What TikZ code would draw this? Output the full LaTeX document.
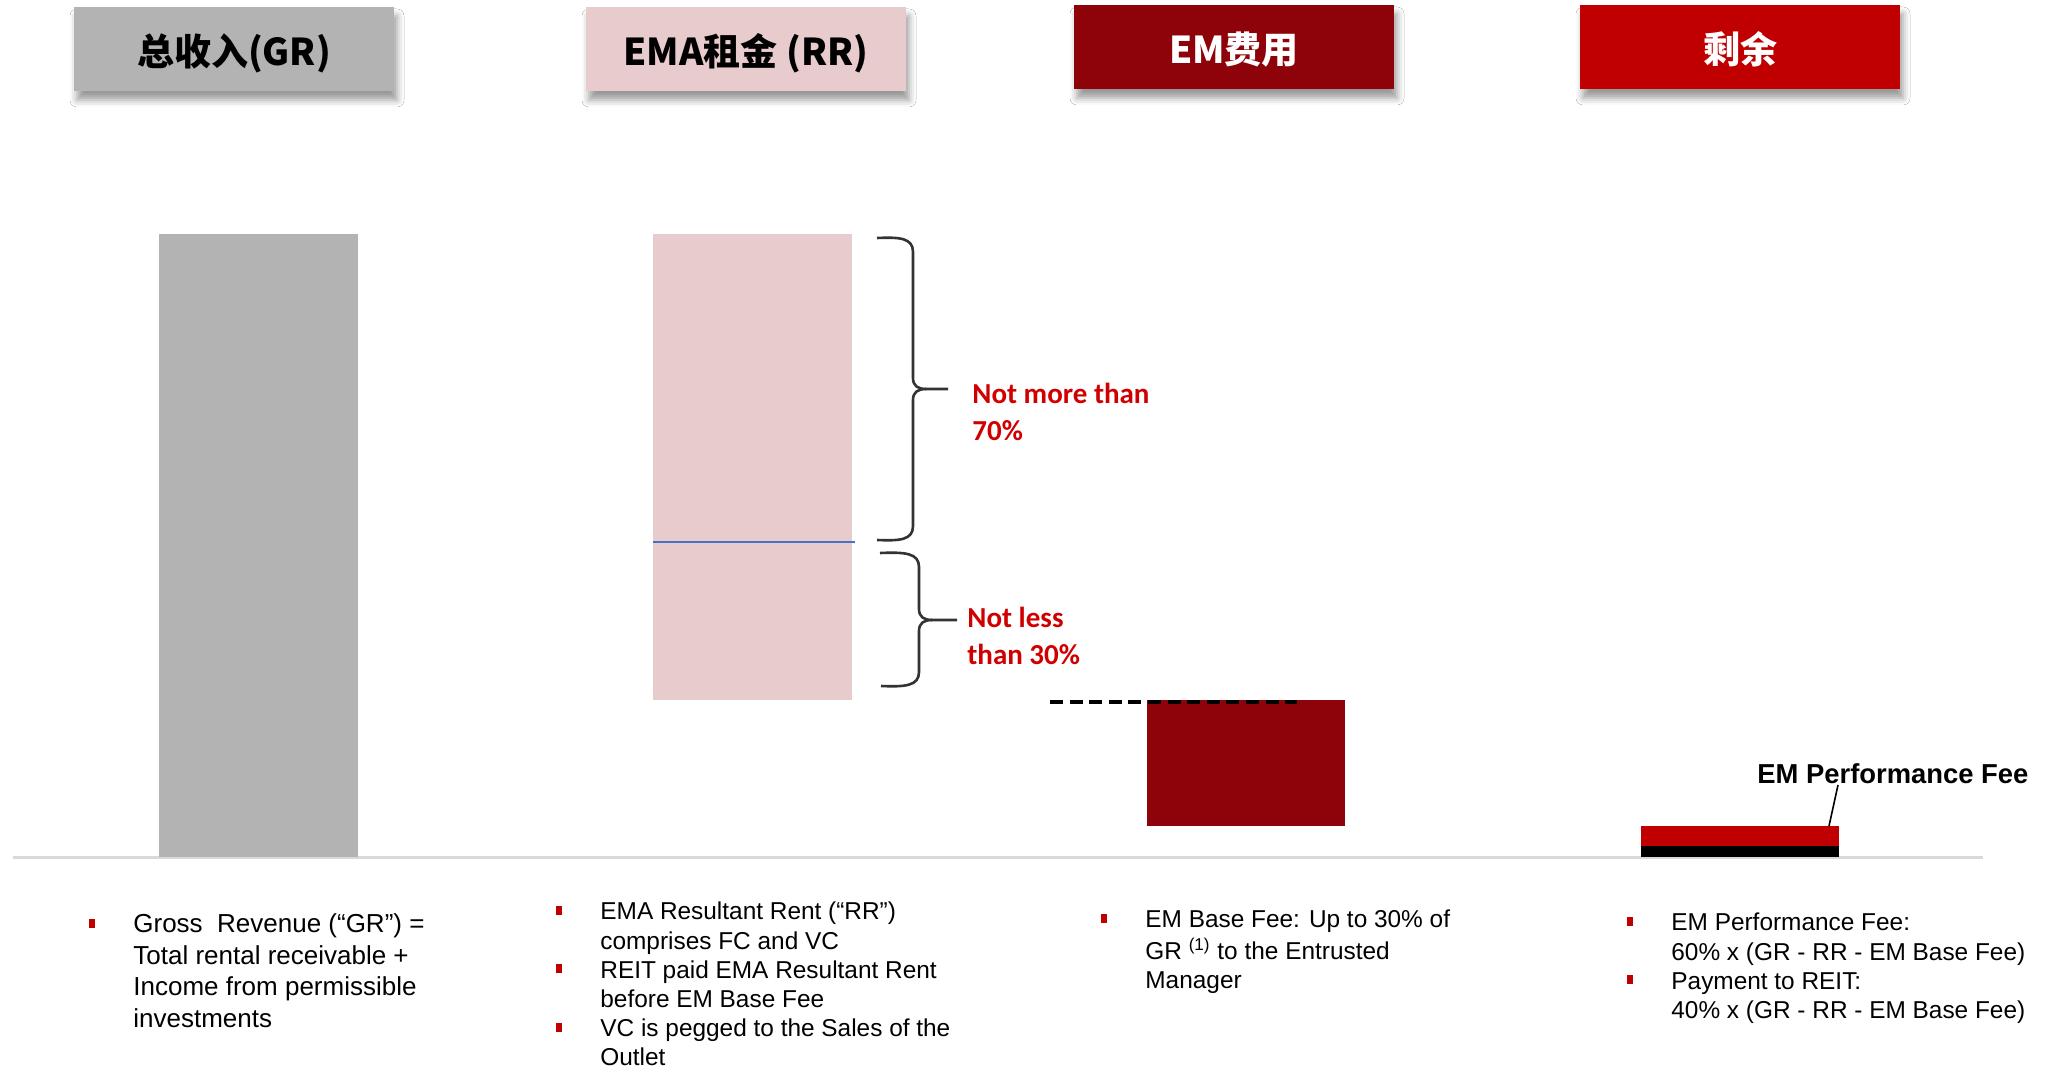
\documentclass[tikz,border=0pt]{standalone}
\usepackage{fontspec}
\setmainfont{Liberation Sans}
\newfontfamily\cjkfont{Noto Sans CJK SC}
\newfontfamily\calfont{Carlito}
\usetikzlibrary{shadows.blur}

\definecolor{grgray}{HTML}{B3B3B3}
\definecolor{rrpink}{HTML}{E8CBCC}
\definecolor{emred}{HTML}{8E0209}
\definecolor{restred}{HTML}{C00000}
\definecolor{notered}{HTML}{D00000}
\definecolor{splitblue}{HTML}{4472C4}
\definecolor{axisgray}{HTML}{D9D9D9}

% red square in front of each point
\newcommand{\bul}{\strut\llap{\textcolor{restred}{\rule[2.4pt]{3pt}{4.5pt}}\hspace{19pt}}}
% header text, set a little below the middle
\newcommand{\headtext}[1]{\raisebox{-8.5pt}[0pt][0pt]{#1}}

\tikzset{
    head/.style={
        minimum width=160pt,
        minimum height=42pt,
        inner sep=0pt,
        font=\cjkfont\bfseries\fontsize{18.5}{22}\selectfont,
        blur shadow={shadow xshift=1.5pt, shadow yshift=-4.5pt, shadow blur radius=3.5pt}
    },
    brace/.style={line width=1.3pt, black!80},
    note/.style={
        anchor=north west,
        align=left,
        inner sep=0pt,
        text=notered,
        font=\calfont\bfseries\fontsize{14.5}{18.5}\selectfont
    },
    points/.style={
        anchor=north west,
        align=left,
        inner sep=0pt,
        font=\fontsize{12.2}{14.6}\selectfont
    }
}

\begin{document}
\begin{tikzpicture}[x=0.5pt, y=-0.5pt]
\fill[white] (0,0) rectangle (2047,1069);
\useasboundingbox (0,0) rectangle (2047,1069);

% headers
\node[head, fill=grgray] (hGR) at (234,49) {\headtext{总收入(GR)}};
\node[head, fill=rrpink] (hRR) at (746,49) {\headtext{EMA租金 (RR)}};
\node[head, fill=emred, text=white] (hEM) at (1234,47) {\headtext{EM费用}};
\node[head, fill=restred, text=white] (hRest) at (1740,47) {\headtext{剩余}};

% axis and bars
\draw[axisgray, line width=1.5pt] (13,857) -- (1983,857);
\fill[grgray] (159,234) rectangle (358,857);
\fill[rrpink] (653,234) rectangle (852,700);
\draw[splitblue, line width=1pt] (653,542) -- (855,542);
\fill[emred] (1147,700) rectangle (1345,826);
\draw[line width=1.6pt, dash pattern=on 6.5pt off 3.3pt] (1050,702) -- (1297,702);
\fill[restred] (1641,826) rectangle (1839,846);
\fill[black] (1641,846) rectangle (1839,857);

% braces
\coordinate (upTip) at (948,389);
\coordinate (lowTip) at (957,620);
\draw[brace] (877,238) .. controls (900,237) and (913,238) .. (913,252) -- (913,378)
    .. controls (913,386) and (918,389) .. (926,389) -- (upTip);
\draw[brace] (926,389) .. controls (918,389) and (913,392) .. (913,400) -- (913,526)
    .. controls (913,540) and (900,541) .. (877,540);
\draw[brace] (880,553) .. controls (905,552) and (919,553) .. (919,567) -- (919,609)
    .. controls (919,617) and (924,620) .. (932,620) -- (lowTip);
\draw[brace] (932,620) .. controls (924,620) and (919,623) .. (919,631) -- (919,672)
    .. controls (919,686) and (905,687) .. (881,686);

\node[note] (upNote) at ([xshift=12pt,yshift=6pt]upTip) {\strut Not more than\\70\%};
\node[note] (lowNote) at ([xshift=5pt,yshift=9.5pt]lowTip) {\strut Not less\\than 30\%};

% performance fee label
\coordinate (perfPt) at (1829,826);
\node[
    anchor=base west,
    inner sep=0pt,
    font=\bfseries\fontsize{13.7}{16}\selectfont
] (perf) at (1757,783) {EM Performance Fee};
\draw[line width=0.8pt] (perfPt) -- (1838,785);

% explanations
\node[points, font=\fontsize{13}{15.8}\selectfont] (tGR) at (133,910) {%
    \bul Gross\ \ Revenue (“GR”) =\\
    Total rental receivable +\\
    Income from permissible\\
    investments};
\node[points] (tRR) at (600,899) {%
    \bul EMA Resultant Rent (“RR”)\\
    comprises FC and VC\\
    \bul REIT paid EMA Resultant Rent\\
    before EM Base Fee\\
    \bul VC is pegged to the Sales of the\\
    Outlet};
\node[points] (tEM) at (1145,907) {%
    \bul EM Base Fee: Up to 30\% of\\
    GR \textsuperscript{(1)} to the Entrusted\\
    Manager};
\node[points] (tRest) at (1671,910) {%
    \bul EM Performance Fee:\\
    60\% x (GR - RR - EM Base Fee)\\
    \bul Payment to REIT:\\
    40\% x (GR - RR - EM Base Fee)};
\end{tikzpicture}
\end{document}
